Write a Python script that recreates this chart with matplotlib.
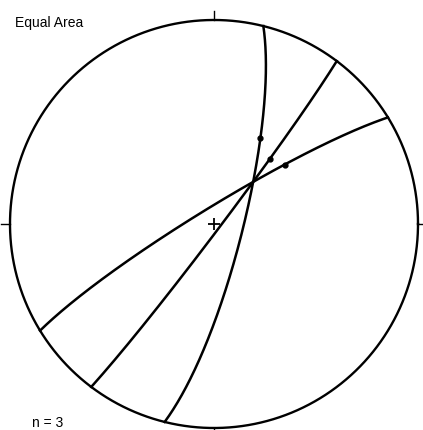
import matplotlib
matplotlib.use("Agg")
import matplotlib.pyplot as plt
import numpy as np

# Planos medidos (strike pela regra da mão direita, mergulho) e rake da estria
strikes = [14.0, 37.0, 238.5]
dips = [78.4, 87.5, 83.5]
rakes = [51.8, 55.3, 126.8]
n_medidas = len(strikes)


def vetor_plano(strike, dip, rake):
    # vetor no plano (norte, leste, baixo) a partir do rake medido desde o strike
    s = np.radians(strike)
    d = np.radians(dip)
    r = np.radians(rake)
    S = np.array([np.cos(s), np.sin(s), 0.0])
    dd = s + np.pi / 2
    D = np.array([np.cos(d) * np.cos(dd), np.cos(d) * np.sin(dd), np.sin(d)])
    return np.outer(np.cos(r), S) + np.outer(np.sin(r), D)


def area_igual(v):
    # projeção de Schmidt, hemisfério inferior
    v = np.atleast_2d(v)
    tr = np.arctan2(v[:, 1], v[:, 0])
    pl = np.arcsin(np.clip(v[:, 2], -1, 1))
    raio = np.sqrt(2) * np.sin((np.pi / 2 - pl) / 2)
    return raio * np.sin(tr), raio * np.cos(tr)


fig = plt.figure(figsize=(4.23, 4.30), dpi=100)
ax = fig.add_axes([0, 0, 1, 1])
ax.set_xlim(-1.049, 1.0245)
ax.set_ylim(-1.0098, 1.098)
ax.set_aspect("equal")
ax.axis("off")

# círculo primitivo
t = np.linspace(0, 2 * np.pi, 400)
ax.plot(np.cos(t), np.sin(t), color="black", lw=1.7)

# marcas N, E, S, W
for az in [0, 90, 180, 270]:
    a = np.radians(az)
    ax.plot([np.sin(a), 1.045 * np.sin(a)], [np.cos(a), 1.045 * np.cos(a)],
            color="black", lw=1.0)

# centro
ax.plot(0, 0, marker="+", color="black", ms=8, mew=1.3)

# grandes círculos e estrias
for s, d, rk in zip(strikes, dips, rakes):
    v = vetor_plano(s, d, np.linspace(0, 180, 300))
    x, y = area_igual(v)
    ax.plot(x, y, color="black", lw=1.8)
    lx, ly = area_igual(vetor_plano(s, d, rk))
    ax.plot(lx, ly, marker="o", color="black", ms=3.5)

ax.text(-0.975, 0.966, "Equal Area", family="Liberation Sans", fontsize=10,
        ha="left", va="baseline")
ax.text(-0.892, -0.995, f"n = {n_medidas}", family="Liberation Sans", fontsize=10,
        ha="left", va="baseline")

fig.savefig("out.png", dpi=100)
